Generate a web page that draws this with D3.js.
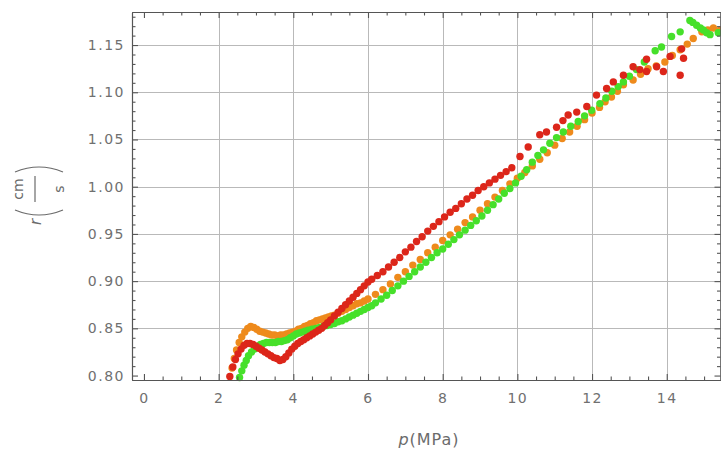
<!DOCTYPE html>
<html>
<head>
<meta charset="utf-8">
<script src="https://cdn.jsdelivr.net/npm/d3@7"></script>
<style>
  body { margin: 0; background: #fff; }
  svg { display: block; }
  .tick text { font-family: "DejaVu Sans", sans-serif; font-size: 14px; fill: #707070; letter-spacing: 1.5px; }
  .lbl { font-family: "DejaVu Sans", sans-serif; fill: #6b6b6b; }
</style>
</head>
<body>
<svg id="chart" width="721" height="450"></svg>
<script>
// burn rate r (cm/s) against pressure p (MPa), three runs
// each entry is [p, r]
let orangePts = [
	[2.36,0.808],[2.42,0.818],[2.48,0.827],[2.55,0.835],[2.62,0.841],[2.70,0.846],[2.78,0.850],[2.86,0.852],
	[2.94,0.851],[3.02,0.849],[3.10,0.847],[3.18,0.846],[3.26,0.845],[3.34,0.844],[3.42,0.843],[3.50,0.843],
	[3.58,0.842],[3.66,0.843],[3.74,0.843],[3.82,0.844],[3.90,0.845],[3.98,0.846],[4.06,0.847],[4.14,0.849],
	[4.22,0.850],[4.30,0.852],[4.38,0.853],[4.46,0.855],[4.54,0.856],[4.62,0.858],[4.70,0.859],[4.78,0.860],
	[4.86,0.861],[4.94,0.862],[5.02,0.863],[5.10,0.864],[5.20,0.866],[5.30,0.868],[5.40,0.870],[5.50,0.872],
	[5.60,0.874],[5.70,0.876],[5.80,0.877],[5.90,0.879],[6.00,0.881],[6.20,0.886],[6.40,0.891],[6.60,0.897],
	[6.80,0.904],[7.00,0.910],[7.20,0.917],[7.40,0.923],[7.60,0.930],[7.80,0.936],[8.00,0.943],[8.20,0.949],
	[8.40,0.955],[8.60,0.962],[8.80,0.968],[9.00,0.975],[9.20,0.982],[9.40,0.989],[9.60,0.996],[9.80,1.003],
	[10.0,1.009],[10.2,1.015],[10.4,1.022],[10.6,1.029],[10.8,1.036],[11.0,1.044],[11.2,1.051],[11.4,1.058],
	[11.6,1.064],[11.8,1.071],[12.0,1.078],[12.2,1.084],[12.35,1.090],[12.52,1.095],[12.68,1.101],[12.84,1.108],
	[13.1,1.113],[13.3,1.119],[13.5,1.125],[13.72,1.128],[13.95,1.132],[14.15,1.139],[14.36,1.145],[14.55,1.151],
	[14.71,1.157],[14.94,1.164],[15.1,1.166],[15.25,1.168],[15.43,1.166]
];

let greenPts = [
	[2.56,0.798],[2.62,0.805],[2.68,0.811],[2.74,0.816],[2.80,0.821],[2.88,0.825],[2.96,0.828],[3.04,0.831],
	[3.12,0.833],[3.20,0.834],[3.28,0.835],[3.36,0.835],[3.44,0.835],[3.52,0.835],[3.60,0.836],[3.68,0.836],
	[3.76,0.837],[3.84,0.838],[3.92,0.840],[4.00,0.842],[4.08,0.844],[4.16,0.845],[4.24,0.846],[4.32,0.847],
	[4.40,0.848],[4.50,0.849],[4.60,0.850],[4.70,0.851],[4.80,0.852],[4.90,0.853],[5.00,0.854],[5.10,0.855],
	[5.20,0.857],[5.30,0.858],[5.40,0.860],[5.50,0.862],[5.60,0.864],[5.70,0.866],[5.80,0.868],[5.90,0.870],
	[6.00,0.872],[6.10,0.874],[6.20,0.877],[6.35,0.881],[6.50,0.885],[6.65,0.890],[6.80,0.895],[6.95,0.900],
	[7.10,0.905],[7.25,0.910],[7.40,0.915],[7.55,0.920],[7.70,0.925],[7.85,0.930],[8.00,0.934],[8.15,0.939],
	[8.30,0.944],[8.45,0.949],[8.60,0.954],[8.75,0.959],[8.90,0.964],[9.05,0.969],[9.20,0.975],[9.35,0.981],
	[9.50,0.987],[9.65,0.993],[9.80,0.998],[9.95,1.004],[10.1,1.011],[10.25,1.018],[10.4,1.026],[10.55,1.033],
	[10.7,1.039],[10.87,1.046],[11.05,1.052],[11.23,1.058],[11.43,1.064],[11.63,1.069],[11.8,1.075],[11.99,1.081],
	[12.21,1.088],[12.37,1.094],[12.53,1.101],[12.7,1.106],[12.84,1.111],[13.0,1.117],[13.19,1.124],[13.4,1.132],
	[13.69,1.144],[13.86,1.148],[14.13,1.159],[14.36,1.164],[14.62,1.176],[14.70,1.174],[14.80,1.171],[14.90,1.168],
	[14.98,1.166],[15.07,1.163],[15.16,1.161],[15.38,1.163]
];

let redPts = [
	[2.30,0.799],[2.38,0.809],[2.45,0.817],[2.52,0.823],[2.60,0.828],[2.68,0.832],[2.76,0.834],[2.84,0.834],
	[2.92,0.833],[3.00,0.831],[3.08,0.829],[3.16,0.827],[3.24,0.825],[3.32,0.823],[3.40,0.821],[3.48,0.819],
	[3.56,0.818],[3.64,0.816],[3.72,0.817],[3.80,0.820],[3.88,0.824],[3.96,0.828],[4.04,0.831],[4.12,0.834],
	[4.20,0.836],[4.28,0.838],[4.36,0.840],[4.44,0.842],[4.52,0.844],[4.60,0.846],[4.68,0.848],[4.76,0.850],
	[4.84,0.853],[4.92,0.856],[5.00,0.859],[5.10,0.863],[5.20,0.867],[5.30,0.871],[5.40,0.875],[5.50,0.879],
	[5.60,0.883],[5.70,0.887],[5.80,0.891],[5.90,0.895],[6.00,0.899],[6.10,0.902],[6.25,0.906],[6.40,0.910],
	[6.55,0.915],[6.70,0.920],[6.85,0.925],[7.00,0.931],[7.15,0.936],[7.30,0.942],[7.45,0.947],[7.60,0.953],
	[7.75,0.958],[7.90,0.963],[8.05,0.968],[8.20,0.973],[8.35,0.977],[8.50,0.982],[8.65,0.987],[8.80,0.991],
	[8.95,0.996],[9.10,1.000],[9.25,1.004],[9.40,1.008],[9.55,1.012],[9.70,1.016],[9.85,1.020],[10.07,1.032],
	[10.29,1.042],[10.6,1.055],[10.78,1.058],[11.05,1.063],[11.22,1.070],[11.36,1.076],[11.59,1.079],[11.86,1.085],
	[12.12,1.097],[12.39,1.104],[12.57,1.111],[12.84,1.118],[13.1,1.127],[13.28,1.124],[13.46,1.135],[13.46,1.122],
	[13.73,1.127],[13.91,1.122],[14.09,1.138],[14.40,1.146],[14.45,1.136],[14.36,1.118]
];

let xTicks = [0, 2, 4, 6, 8, 10, 12, 14];
let yTicks = [0.80, 0.85, 0.90, 0.95, 1.00, 1.05, 1.10, 1.15];

// drawn in this order, red ends up on top
let series = [
	{ name: "orange", color: "#ee8a1c", pts: orangePts },
	{ name: "green", color: "#46e02a", pts: greenPts },
	{ name: "red", color: "#dc261a", pts: redPts }
];

let frame = { left: 132, right: 720.5, top: 12, bottom: 380 };

let x = d3.scaleLinear().domain([-0.32, 15.44]).range([frame.left, frame.right]);
let y = d3.scaleLinear().domain([0.7953, 1.185]).range([frame.bottom, frame.top]);

let svg = d3.select("#chart");
svg.append("rect").attr("width", 721).attr("height", 450).attr("fill", "#fff");

// grid
let grid = svg.append("g").attr("stroke", "#b9b9b9").attr("stroke-width", 1);
grid.selectAll("line.gx").data(xTicks.filter(d => d > 0)).enter().append("line")
	.attr("x1", d => Math.round(x(d)) + 0.5).attr("x2", d => Math.round(x(d)) + 0.5)
	.attr("y1", frame.top).attr("y2", frame.bottom);
grid.selectAll("line.gy").data(yTicks.filter(d => d > 0.8)).enter().append("line")
	.attr("y1", d => Math.round(y(d)) + 0.5).attr("y2", d => Math.round(y(d)) + 0.5)
	.attr("x1", frame.left).attr("x2", frame.right);

// points
series.forEach(function(s) {
	svg.append("g").attr("class", "pts-" + s.name)
		.selectAll("circle").data(s.pts).enter().append("circle")
		.attr("cx", d => x(d[0]))
		.attr("cy", d => y(d[1]))
		.attr("r", 3.7)
		.attr("fill", s.color);
});

// frame axes, ticks pointing inwards like mathematica
let xMinor = d3.range(0, 15.5, 0.5).filter(v => v % 2 !== 0);
let yMinor = d3.range(80, 119).map(v => v / 100).filter(v => Math.round(v * 100) % 5 !== 0);

function styleAxis(g) {
	g.selectAll("path, line").attr("stroke", "#555").attr("stroke-width", 1.1);
}

svg.append("g").attr("transform", "translate(0," + frame.bottom + ")")
	.call(d3.axisBottom(x).tickValues(xTicks).tickSizeInner(-6).tickSizeOuter(0).tickPadding(13).tickFormat(d3.format("d")))
	.call(styleAxis);
svg.append("g").attr("transform", "translate(0," + frame.bottom + ")")
	.call(d3.axisBottom(x).tickValues(xMinor).tickSizeInner(-3.5).tickSizeOuter(0).tickFormat(""))
	.call(styleAxis);
svg.append("g").attr("transform", "translate(0," + frame.top + ")")
	.call(d3.axisTop(x).tickValues(xTicks).tickSizeInner(-6).tickSizeOuter(0).tickFormat(""))
	.call(styleAxis);
svg.append("g").attr("transform", "translate(0," + frame.top + ")")
	.call(d3.axisTop(x).tickValues(xMinor).tickSizeInner(-3.5).tickSizeOuter(0).tickFormat(""))
	.call(styleAxis);

svg.append("g").attr("transform", "translate(" + frame.left + ",0)")
	.call(d3.axisLeft(y).tickValues(yTicks).tickSizeInner(-6).tickSizeOuter(0).tickPadding(7).tickFormat(d3.format(".2f")))
	.call(styleAxis);
svg.append("g").attr("transform", "translate(" + frame.left + ",0)")
	.call(d3.axisLeft(y).tickValues(yMinor).tickSizeInner(-3.5).tickSizeOuter(0).tickFormat(""))
	.call(styleAxis);
svg.append("g").attr("transform", "translate(" + frame.right + ",0)")
	.call(d3.axisRight(y).tickValues(yTicks).tickSizeInner(-6).tickSizeOuter(0).tickFormat(""))
	.call(styleAxis);
svg.append("g").attr("transform", "translate(" + frame.right + ",0)")
	.call(d3.axisRight(y).tickValues(yMinor).tickSizeInner(-3.5).tickSizeOuter(0).tickFormat(""))
	.call(styleAxis);

// x label
let xl = svg.append("text").attr("class", "lbl")
	.attr("x", 429).attr("y", 445)
	.attr("text-anchor", "middle")
	.style("font-size", "16px").style("letter-spacing", "1px");
xl.append("tspan").attr("font-style", "italic").text("p");
xl.append("tspan").text("(MPa)");

// y label: r (cm / s), rotated
let yl = svg.append("g").attr("transform", "translate(38,190) rotate(-90)");
yl.append("text").attr("class", "lbl").attr("x", -35).attr("y", 3)
	.attr("font-style", "italic").style("font-size", "15px").text("r");
yl.append("path").attr("d", "M -20,-23 Q -30,1 -20,25")
	.attr("fill", "none").attr("stroke", "#6b6b6b").attr("stroke-width", 1.2);
yl.append("path").attr("d", "M 18,-23 Q 28,1 18,25")
	.attr("fill", "none").attr("stroke", "#6b6b6b").attr("stroke-width", 1.2);
yl.append("text").attr("class", "lbl").attr("x", 1).attr("y", -15)
	.attr("text-anchor", "middle").style("font-size", "14px").text("cm");
yl.append("line").attr("x1", -12).attr("x2", 14).attr("y1", -3).attr("y2", -3)
	.attr("stroke", "#6b6b6b").attr("stroke-width", 1.2);
yl.append("text").attr("class", "lbl").attr("x", 1).attr("y", 26)
	.attr("text-anchor", "middle").style("font-size", "14px").text("s");
</script>
</body>
</html>
